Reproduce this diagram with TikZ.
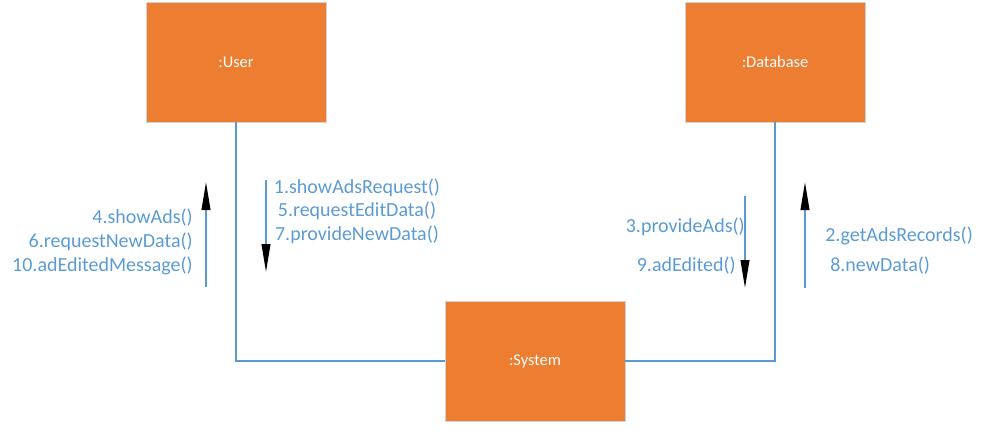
\documentclass[tikz,border=0pt]{standalone}
\usepackage{fontspec}
\setmainfont{Carlito}
\usetikzlibrary{positioning,calc,arrows.meta}
\definecolor{boxorange}{HTML}{ED7D31}
\definecolor{msgblue}{HTML}{5B9BD5}

\begin{document}
\begin{tikzpicture}[x=0.75pt,y=-0.75pt,>={Triangle[length=21pt,width=6.5pt,color=black]},
    main node/.style={rectangle,draw=gray!35,fill=boxorange,text=white,
      minimum width=135pt,minimum height=90pt,font=\fontsize{12.3}{14}\selectfont},
    msg/.style={text=msgblue,font=\fontsize{15}{17.7}\selectfont,inner sep=0pt},
    link/.style={draw=msgblue,line width=1.1pt},
    call/.style={draw=msgblue,line width=1.4pt,->}]
    \useasboundingbox (0,0) rectangle (985,431);
    % nodes
      \node[main node] (user) at (236,62) {:User};
      \node[main node] (db) at (775,62) {:Database};
      \node[main node] (sys) at (535,361) {:System};
    % message arrows
      \coordinate (a1) at (206,287); \coordinate (b1) at (206,182);
      \coordinate (a2) at (266,180); \coordinate (b2) at (266,272);
      \coordinate (a3) at (745,196); \coordinate (b3) at (745,288);
      \coordinate (a4) at (805,288); \coordinate (b4) at (805,182);
    % links
      \draw[link] (user.south) |- (sys.west);
      \draw[link] (db.south) |- (sys.east);
    % calls
      \draw[call] (a1) -- (b1);
      \draw[call] (a2) -- (b2);
      \draw[call] (a3) -- (b3);
      \draw[call] (a4) -- (b4);
    % labels
      \node[msg,align=right,anchor=east] (m1) at (193,242)
        {4.showAds()\\6.requestNewData()\\10.adEditedMessage()};
      \node[msg,align=center] (m2) at (357,211)
        {1.showAdsRequest()\\5.requestEditData()\\7.provideNewData()};
      \node[msg,anchor=east] (m3) at (745,227) {3.provideAds()};
      \node[msg,anchor=east] (m4) at (736,266) {9.adEdited()};
      \node[msg,anchor=west] (m5) at (825,236) {2.getAdsRecords()};
      \node[msg,anchor=west] (m6) at (830,266) {8.newData()};
\end{tikzpicture}
\end{document}
